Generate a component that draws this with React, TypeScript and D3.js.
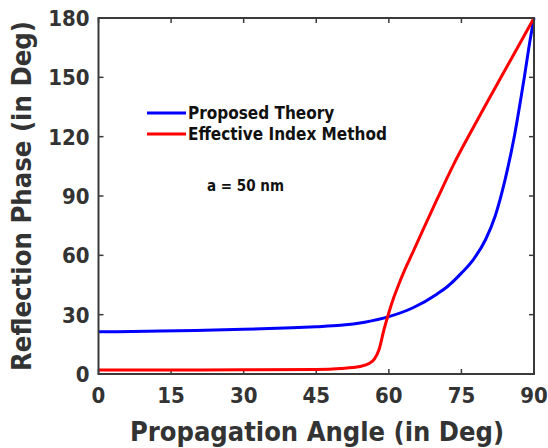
import React, { useEffect, useRef } from 'react';
import * as d3 from 'd3';

// Propagation angle (deg) vs reflection phase (deg)
const blueAngles = [0, 10, 20, 30, 40, 45, 50, 55, 60, 65, 70, 72, 75, 77.5, 80, 82, 84, 86, 87.2, 88, 89, 90];
const blueValues = [21.3, 21.6, 22.0, 22.6, 23.4, 23.9, 24.6, 26.2, 29, 33.5, 40.5, 44, 51, 58, 68, 80, 98, 121, 138, 150, 166, 180];

const redAngles = [0, 15, 30, 45, 50, 54, 56, 57, 58, 59, 60, 61, 62, 63, 64, 65, 66.8, 70, 73.4, 77.2, 80, 85, 90];
const redValues = [2.0, 2.0, 2.1, 2.3, 2.8, 3.8, 5.4, 7.5, 12.5, 22.5, 31, 38.5, 45, 51, 56.5, 61.8, 71.5, 88.5, 106, 123.5, 136, 158, 180];

const xTicks = [0, 15, 30, 45, 60, 75, 90];
const yTicks = [0, 30, 60, 90, 120, 150, 180];

const seriesNames = ['Proposed Theory', 'Effective Index Method'];
const seriesColors = ['#0000ff', '#ff0000'];

const FONT = '"DejaVu Sans Condensed", "DejaVu Sans", sans-serif';

const App = () => {
  const ref = useRef<SVGSVGElement | null>(null);

  const W = 548;
  const H = 448;
  const margin = { top: 18, right: 14, bottom: 74, left: 98.5 };
  const width = W - margin.left - margin.right;
  const height = H - margin.top - margin.bottom;

  useEffect(() => {
    if (!ref.current) return;
    const svg = d3.select(ref.current);
    svg.selectAll('*').remove();

    const x = d3.scaleLinear().domain([0, 90]).range([0, width]);
    const y = d3.scaleLinear().domain([0, 180]).range([height, 0]);

    const g = svg.append('g').attr('transform', `translate(${margin.left},${margin.top})`);

    const line = d3.line<[number, number]>()
      .x(d => x(d[0]))
      .y(d => y(d[1]))
      .curve(d3.curveMonotoneX);

    const series = [
      d3.zip(blueAngles, blueValues) as [number, number][],
      d3.zip(redAngles, redValues) as [number, number][]
    ];

    // clip so curves stay inside box
    svg.append('defs').append('clipPath').attr('id', 'plotclip')
      .append('rect').attr('x', -2).attr('y', -2).attr('width', width + 4).attr('height', height + 4);

    const axisColor = '#3a3a3a';

    // ticks inward on all sides
    const ticks = g.append('g').attr('stroke', axisColor).attr('stroke-width', 1.5);
    xTicks.forEach(t => {
      ticks.append('line').attr('x1', x(t)).attr('x2', x(t)).attr('y1', height).attr('y2', height - 5);
      ticks.append('line').attr('x1', x(t)).attr('x2', x(t)).attr('y1', 0).attr('y2', 5);
    });
    yTicks.forEach(t => {
      ticks.append('line').attr('x1', 0).attr('x2', 5).attr('y1', y(t)).attr('y2', y(t));
      ticks.append('line').attr('x1', width).attr('x2', width - 5).attr('y1', y(t)).attr('y2', y(t));
    });

    const curves = g.append('g').attr('clip-path', 'url(#plotclip)');
    series.forEach((s, i) => {
      curves.append('path')
        .datum(s)
        .attr('d', line)
        .attr('fill', 'none')
        .attr('stroke', seriesColors[i])
        .attr('stroke-width', 3);
    });

    g.append('rect')
      .attr('x', 0).attr('y', 0).attr('width', width).attr('height', height)
      .attr('fill', 'none').attr('stroke', axisColor).attr('stroke-width', 2);

    // tick labels
    g.append('g').selectAll('text').data(xTicks).enter().append('text')
      .attr('x', d => x(d)).attr('y', height + 29)
      .attr('text-anchor', 'middle')
      .style('font-family', FONT).style('font-weight', 'bold').style('font-size', '22px')
      .attr('fill', '#333')
      .text(d => d);

    g.append('g').selectAll('text').data(yTicks).enter().append('text')
      .attr('x', -9).attr('y', d => y(d)).attr('dy', '0.36em')
      .attr('text-anchor', 'end')
      .style('font-family', FONT).style('font-weight', 'bold').style('font-size', '22px')
      .attr('fill', '#333')
      .text(d => d);

    // axis titles
    svg.append('text')
      .attr('x', 317).attr('y', 441)
      .attr('text-anchor', 'middle')
      .attr('textLength', 374).attr('lengthAdjust', 'spacingAndGlyphs')
      .style('font-family', FONT).style('font-weight', 'bold').style('font-size', '26px')
      .attr('fill', '#333')
      .text('Propagation Angle (in Deg)');

    svg.append('text')
      .attr('transform', `translate(31,196) rotate(-90)`)
      .attr('text-anchor', 'middle')
      .attr('textLength', 350).attr('lengthAdjust', 'spacingAndGlyphs')
      .style('font-family', FONT).style('font-weight', 'bold').style('font-size', '26px')
      .attr('fill', '#333')
      .text('Reflection Phase (in Deg)');

    // legend
    const legend = svg.append('g');
    seriesNames.forEach((name, i) => {
      const ly = 113 + i * 21;
      legend.append('line')
        .attr('x1', 147).attr('x2', 186).attr('y1', ly).attr('y2', ly)
        .attr('stroke', seriesColors[i]).attr('stroke-width', 3);
      legend.append('text')
        .attr('x', 188).attr('y', ly).attr('dy', '0.36em')
        .style('font-family', FONT).style('font-weight', 'bold').style('font-size', '17px')
        .attr('fill', '#111')
        .text(name);
    });

    svg.append('text')
      .attr('x', 207).attr('y', 191)
      .style('font-family', FONT).style('font-weight', 'bold').style('font-size', '15px')
      .attr('fill', '#111')
      .text('a = 50 nm');
  }, []);

  return (
    <div style={{ position: 'absolute', left: 0, top: 0 }}>
      <svg ref={ref} width={W} height={H} style={{ display: 'block', background: '#fff' }} />
    </div>
  );
};

export default App;
